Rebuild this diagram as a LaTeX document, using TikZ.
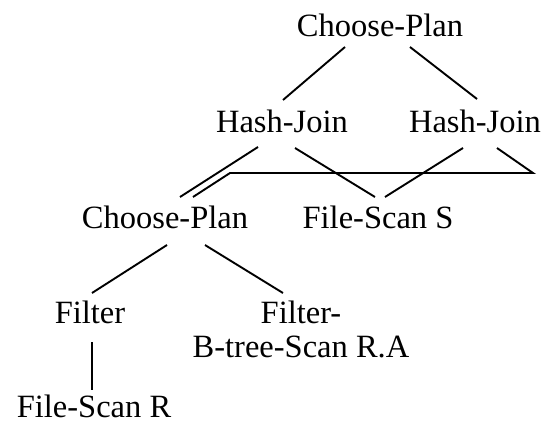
\documentclass[tikz,border=0pt]{standalone}
\usepackage{fontspec}
\setmainfont{Liberation Serif}
\begin{document}
\begin{tikzpicture}[x=1pt,y=-1pt,
  lbl/.style={inner sep=0pt,anchor=base,font=\fontsize{32.5}{34}\selectfont},
  edge/.style={line width=1.9pt,line join=miter}]
\useasboundingbox (0,0) rectangle (542,423);
\node[lbl] (cp1) at (380,36) {Choose-Plan};
\node[lbl] (hj1) at (282,132) {Hash-Join};
\node[lbl] (hj2) at (475,132) {Hash-Join};
\node[lbl] (cp2) at (165,228) {Choose-Plan};
\node[lbl] (fss) at (378,228) {File-Scan S};
\node[lbl] (fil) at (90,323) {Filter};
\node[lbl,align=center] (fbt) at (301,357) {Filter-\\B-tree-Scan R.A};
\node[lbl] (fsr) at (94,417) {File-Scan R};
\draw[edge] ([shift={(-35,11)}]cp1.base) -- ([shift={(1,-32)}]hj1.base);
\draw[edge] ([shift={(30,11)}]cp1.base) -- ([shift={(2,-33)}]hj2.base);
\draw[edge] ([shift={(-24,15)}]hj1.base) -- ([shift={(15,-31)}]cp2.base);
\draw[edge] ([shift={(13,16)}]hj1.base) -- ([shift={(-3,-31)}]fss.base);
\draw[edge] ([shift={(-12,16)}]hj2.base) -- ([shift={(7,-31)}]fss.base);
\draw[edge] ([shift={(22,16)}]hj2.base) -- ([shift={(58,41)}]hj2.base)
  -- ([shift={(65,-55)}]cp2.base) -- ([shift={(28,-31)}]cp2.base);
\draw[edge] ([shift={(2,17)}]cp2.base) -- ([shift={(2,-30)}]fil.base);
\draw[edge] ([shift={(40,17)}]cp2.base) -- ([shift={(-18,-64)}]fbt.base);
\draw[edge] ([shift={(2,19)}]fil.base) -- ([shift={(-2,-27)}]fsr.base);
\end{tikzpicture}
\end{document}
